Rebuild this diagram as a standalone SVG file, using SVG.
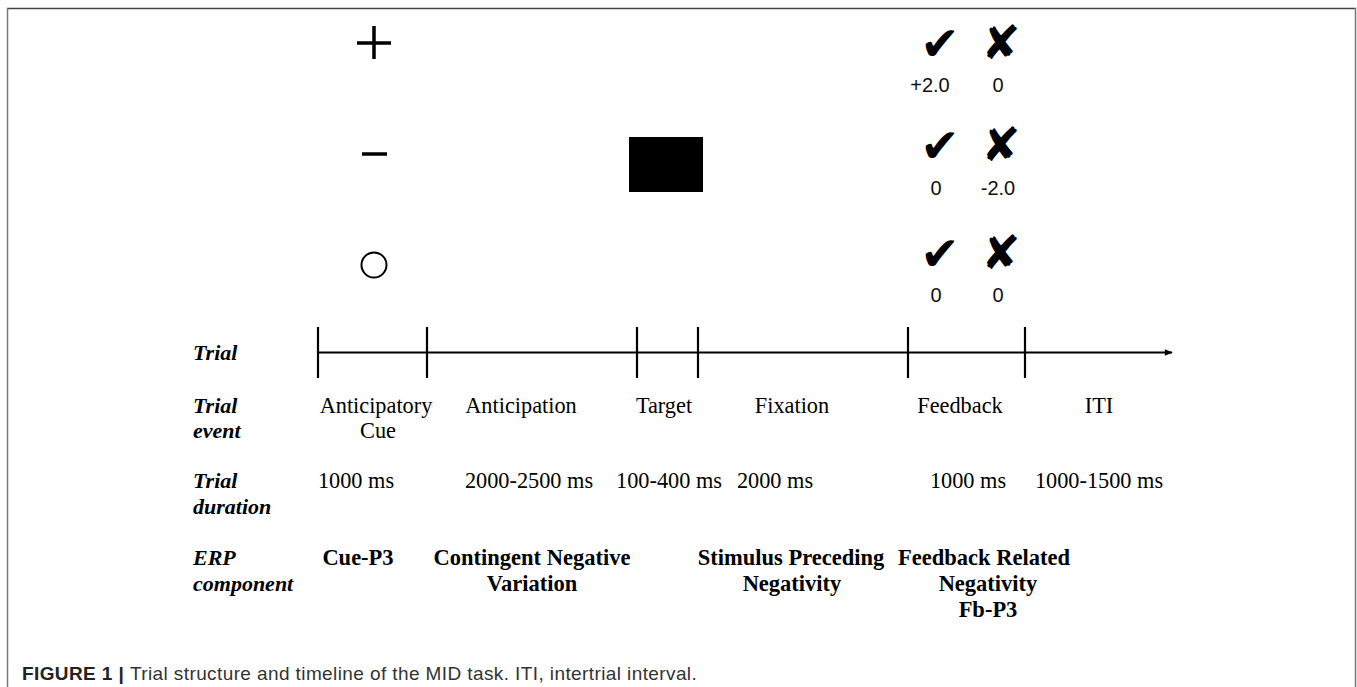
<svg xmlns="http://www.w3.org/2000/svg" width="1357" height="687" viewBox="0 0 1357 687">
<defs>
<style>
.serif{font-family:"Liberation Serif","Times New Roman",serif;font-size:22.3px;fill:#000}
.lab{font-family:"Liberation Serif","Times New Roman",serif;font-size:22px;font-weight:bold;font-style:italic;fill:#000}
.erp{font-family:"Liberation Serif","Times New Roman",serif;font-size:22.5px;font-weight:bold;fill:#000}
.num{font-family:"Liberation Sans",Arial,sans-serif;font-size:20px;fill:#111}
.sym{font-family:"DejaVu Sans",sans-serif;font-size:47px;fill:#000}
.tick{stroke:#000;stroke-width:2.2;fill:none}
.cap{font-family:"Liberation Sans",Arial,sans-serif;font-size:19px;letter-spacing:0.4px;fill:#333}
</style>
<marker id="arr" viewBox="0 0 10 10" refX="9" refY="5" markerWidth="9" markerHeight="8" markerUnits="userSpaceOnUse" orient="auto">
<path d="M0,1 L10,5 L0,9 z" fill="#000"/>
</marker>
</defs>
<rect width="1357" height="687" fill="#fff"/>
<g id="frame">
<line x1="7" y1="8.5" x2="1356" y2="8.5" stroke="#444" stroke-width="1.5"/>
<line x1="7.5" y1="8" x2="7.5" y2="687" stroke="#777" stroke-width="1.5"/>
<line x1="1355.5" y1="8" x2="1355.5" y2="687" stroke="#777" stroke-width="1.5"/>
</g>
<g id="cues">
<g id="cue-plus"><line x1="357" y1="43" x2="391" y2="43" stroke="#000" stroke-width="3.5"/><line x1="374" y1="26" x2="374" y2="59" stroke="#000" stroke-width="3.5"/></g>
<g id="cue-minus"><line x1="362" y1="154" x2="387" y2="154" stroke="#000" stroke-width="3.5"/></g>
<g id="cue-circle"><circle cx="374" cy="265" r="12.5" fill="none" stroke="#000" stroke-width="2"/></g>
</g>
<g id="target"><rect x="629" y="137" width="74" height="55" fill="#000"/></g>
<g id="feedback">
<text class="sym" x="940" y="60" text-anchor="middle">✔</text>
<text class="sym" x="1001" y="59" text-anchor="middle">✘</text>
<text class="num" x="930" y="92" text-anchor="middle">+2.0</text>
<text class="num" x="998" y="92" text-anchor="middle">0</text>
<text class="sym" x="940" y="162" text-anchor="middle">✔</text>
<text class="sym" x="1001" y="161" text-anchor="middle">✘</text>
<text class="num" x="936" y="195" text-anchor="middle">0</text>
<text class="num" x="998" y="195" text-anchor="middle">-2.0</text>
<text class="sym" x="940" y="270" text-anchor="middle">✔</text>
<text class="sym" x="1001" y="269" text-anchor="middle">✘</text>
<text class="num" x="936" y="302" text-anchor="middle">0</text>
<text class="num" x="998" y="302" text-anchor="middle">0</text>
</g>
<g id="connectors">
<line x1="318" y1="352.5" x2="1172" y2="352.5" stroke="#000" stroke-width="2" marker-end="url(#arr)"/>
<line class="tick" x1="318" y1="327" x2="318" y2="378"/>
<line class="tick" x1="427" y1="327" x2="427" y2="378"/>
<line class="tick" x1="637" y1="327" x2="637" y2="378"/>
<line class="tick" x1="698" y1="327" x2="698" y2="378"/>
<line class="tick" x1="908" y1="327" x2="908" y2="378"/>
<line class="tick" x1="1025" y1="327" x2="1025" y2="378"/>
</g>
<g id="row-labels">
<text class="lab" x="193" y="360">Trial</text>
<text class="lab" x="193" y="413">Trial</text>
<text class="lab" x="193" y="438">event</text>
<text class="lab" x="193" y="488">Trial</text>
<text class="lab" x="193" y="514">duration</text>
<text class="lab" x="193" y="565">ERP</text>
<text class="lab" x="193" y="591">component</text>
</g>
<g id="events">
<text class="serif" x="376" y="413" text-anchor="middle">Anticipatory</text>
<text class="serif" x="378" y="438" text-anchor="middle">Cue</text>
<text class="serif" x="521" y="413" text-anchor="middle">Anticipation</text>
<text class="serif" x="664" y="413" text-anchor="middle">Target</text>
<text class="serif" x="792" y="413" text-anchor="middle">Fixation</text>
<text class="serif" x="960" y="413" text-anchor="middle">Feedback</text>
<text class="serif" x="1099" y="413" text-anchor="middle">ITI</text>
</g>
<g id="durations">
<text class="serif" x="356" y="488" text-anchor="middle">1000 ms</text>
<text class="serif" x="529" y="488" text-anchor="middle">2000-2500 ms</text>
<text class="serif" x="669" y="488" text-anchor="middle">100-400 ms</text>
<text class="serif" x="775" y="488" text-anchor="middle">2000 ms</text>
<text class="serif" x="968" y="488" text-anchor="middle">1000 ms</text>
<text class="serif" x="1099" y="488" text-anchor="middle">1000-1500 ms</text>
</g>
<g id="components">
<text class="erp" x="358" y="565" text-anchor="middle">Cue-P3</text>
<text class="erp" x="532" y="565" text-anchor="middle">Contingent Negative</text>
<text class="erp" x="532" y="591" text-anchor="middle">Variation</text>
<text class="erp" x="791" y="565" text-anchor="middle">Stimulus Preceding</text>
<text class="erp" x="792" y="591" text-anchor="middle">Negativity</text>
<text class="erp" x="984" y="565" text-anchor="middle">Feedback Related</text>
<text class="erp" x="988" y="591" text-anchor="middle">Negativity</text>
<text class="erp" x="988" y="617" text-anchor="middle">Fb-P3</text>
</g>
<g id="caption">
<text class="cap" x="22" y="680"><tspan font-weight="bold" fill="#222">FIGURE 1 | </tspan>Trial structure and timeline of the MID task. ITI, intertrial interval.</text>
</g>
</svg>
